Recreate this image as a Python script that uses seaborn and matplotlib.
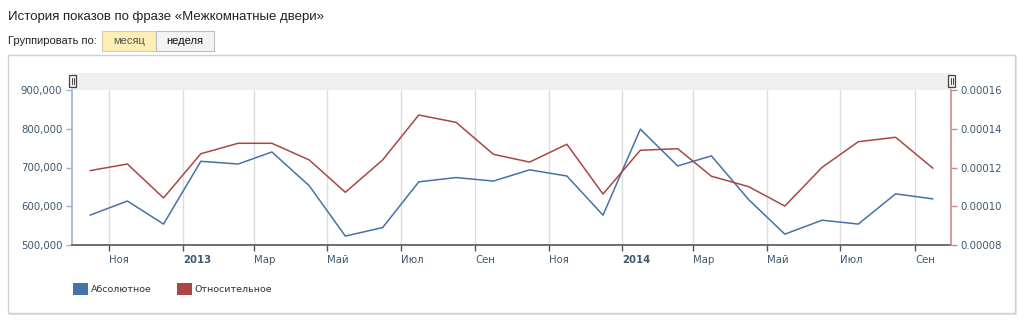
import matplotlib
matplotlib.use("Agg")
import matplotlib.pyplot as plt
import matplotlib.transforms as mtransforms
from matplotlib.patches import Rectangle, Patch
import seaborn as sns
import pandas as pd
import numpy as np

# ---- data ----
months = pd.date_range("2012-10-01", periods=24, freq="MS") + pd.Timedelta(days=15)
absolute = [577000, 613500, 554000, 716000, 709000, 740000, 653000, 523000,
            545000, 663000, 674000, 665000, 694000, 678000, 577000, 799000,
            704000, 730000, 617000, 528000, 564000, 554000, 632000, 619000]
relative = [0.0001184, 0.0001218, 0.0001043, 0.0001271, 0.0001325, 0.0001325,
            0.0001239, 0.0001072, 0.0001239, 0.0001471, 0.0001433, 0.0001268,
            0.0001228, 0.0001320, 0.0001063, 0.0001289, 0.0001297, 0.0001155,
            0.0001101, 0.0001001, 0.0001201, 0.0001333, 0.0001356, 0.0001196]
tick_dates = ["2012-11-01", "2013-01-01", "2013-03-01", "2013-05-01", "2013-07-01",
              "2013-09-01", "2013-11-01", "2014-01-01", "2014-03-01", "2014-05-01",
              "2014-07-01", "2014-09-01"]
tick_labels = ["Ноя", "2013", "Мар", "Май", "Июл", "Сен", "Ноя", "2014", "Мар",
               "Май", "Июл", "Сен"]
left_ticks = [500000, 600000, 700000, 800000, 900000]
right_ticks = [0.00008, 0.00010, 0.00012, 0.00014, 0.00016]
series_names = ["Абсолютное", "Относительное"]

df = pd.DataFrame({"date": months, "abs": absolute, "rel": relative})

BLUE = "#4572A7"
RED = "#AA4643"
LABEL = "#3E576F"

sns.set_theme(style="white")
plt.rcParams["font.family"] = ["DejaVu Sans"]

W, H = 1024, 322
fig = plt.figure(figsize=(W / 100, H / 100), dpi=100)
fig.patch.set_facecolor("white")

def fx(px):
    return px / W

def fy(py):
    return 1 - py / H

# panel box with shadow
fig.patches.append(Rectangle((fx(9), fy(315)), fx(1008), (315 - 56) / H,
                             transform=fig.transFigure, facecolor="#e6e6e6",
                             edgecolor="none", zorder=0))
fig.patches.append(Rectangle((fx(8), fy(313)), fx(1007), (313 - 55) / H,
                             transform=fig.transFigure, facecolor="white",
                             edgecolor="#d0d0d0", linewidth=1, zorder=0))

# navigator band
fig.patches.append(Rectangle((fx(72), fy(90)), fx(951 - 72), 17 / H,
                             transform=fig.transFigure, facecolor="#efefef",
                             edgecolor="none", zorder=1))
for hx in (72, 951):
    fig.patches.append(Rectangle((fx(hx - 3), fy(87)), fx(7), 12 / H,
                                 transform=fig.transFigure, facecolor="#f4f4f4",
                                 edgecolor="#444444", linewidth=0.9, zorder=2))
    for dx in (-1, 1):
        fig.lines.append(plt.Line2D([fx(hx + dx + 0.5), fx(hx + dx + 0.5)],
                                    [fy(84), fy(78)], transform=fig.transFigure,
                                    color="#444444", linewidth=0.7, zorder=3))

# title & buttons
fig.text(fx(8), fy(17), "История показов по фразе «Межкомнатные двери»",
         fontsize=9.5, family="Liberation Sans", color="#222222", va="center")
fig.text(fx(8), fy(41), "Группировать по:", fontsize=8.0, family="Liberation Sans",
         color="#222222", va="center")
fig.patches.append(Rectangle((fx(102), fy(51)), fx(54), 20 / H,
                             transform=fig.transFigure, facecolor="#fdefb5",
                             edgecolor="#d8cfa5", linewidth=0.8, zorder=1))
fig.patches.append(Rectangle((fx(156), fy(51)), fx(58), 20 / H,
                             transform=fig.transFigure, facecolor="#f3f3f3",
                             edgecolor="#bdbdbd", linewidth=0.8, zorder=1))
fig.text(fx(129), fy(41), "месяц", fontsize=8.0, family="Liberation Sans",
         color="#555555", ha="center", va="center")
fig.text(fx(185), fy(41), "неделя", fontsize=8.0, family="Liberation Sans",
         color="#111111", ha="center", va="center")

# axes
ax = fig.add_axes([fx(72), fy(245), fx(951 - 72), (245 - 90) / H])
ax.set_facecolor("none")
ax2 = ax.twinx()
ax.set_zorder(5)
ax2.set_zorder(6)
ax2.set_facecolor("none")

sns.lineplot(data=df, x="date", y="abs", ax=ax, color=BLUE, linewidth=1.1)
sns.lineplot(data=df, x="date", y="rel", ax=ax2, color=RED, linewidth=1.1)

ax.set_xlim(pd.Timestamp("2012-10-01"), pd.Timestamp("2014-10-01"))
ax.set_ylim(500000, 900000)
ax2.set_ylim(0.00008, 0.00016)

ax.set_xticks([pd.Timestamp(d) for d in tick_dates])
ax.set_xticklabels(tick_labels)
offset = mtransforms.ScaledTranslation(2.5 / 100, 0, fig.dpi_scale_trans)
for lab in ax.get_xticklabels():
    lab.set_horizontalalignment("left")
    lab.set_transform(lab.get_transform() + offset)
    if lab.get_text() in ("2013", "2014"):
        lab.set_fontweight("bold")
        lab.set_color("#111111")
ax.xaxis.grid(True, color="#dddddd", linewidth=1)
ax.yaxis.grid(False)
ax2.grid(False)

ax.set_yticks(left_ticks)
ax.set_yticklabels([f"{v:,}" for v in left_ticks])
ax2.set_yticks(right_ticks)
ax2.set_yticklabels([f"{v:.5f}" for v in right_ticks])

ax.set_xlabel("")
ax.set_ylabel("")
ax2.set_ylabel("")

for a in (ax, ax2):
    a.spines["top"].set_visible(False)
ax.spines["right"].set_visible(False)
ax2.spines["left"].set_visible(False)
ax2.spines["bottom"].set_visible(False)
ax.spines["left"].set_color("#9ab3d5")
ax.spines["left"].set_linewidth(1.2)
ax2.spines["right"].set_color("#c98a88")
ax2.spines["right"].set_linewidth(1.2)
ax.spines["bottom"].set_color("#555555")
ax.spines["bottom"].set_linewidth(1.2)

ax.tick_params(axis="x", direction="out", length=4, width=1, color="#555555",
               labelsize=7.3, labelcolor=LABEL, pad=3, bottom=True)
ax.tick_params(axis="y", direction="out", length=4, width=1, color="#9ab3d5",
               labelsize=7.3, labelcolor=LABEL, pad=3, left=True)
ax2.tick_params(axis="y", direction="out", length=4, width=1, color="#c98a88",
                labelsize=7.3, labelcolor=LABEL, pad=3, right=True)

# legend
handles = [Patch(facecolor=BLUE, edgecolor="none"), Patch(facecolor=RED, edgecolor="none")]
fig.legend(handles, series_names, loc="center left",
           bbox_to_anchor=(fx(64), fy(289)), ncol=2, frameon=False,
           handlelength=1.6, handleheight=1.6, handletextpad=0.3,
           columnspacing=2.7, prop={"size": 6.8}, labelcolor="#333333")

fig.savefig("out.png", dpi=100, facecolor="white")
